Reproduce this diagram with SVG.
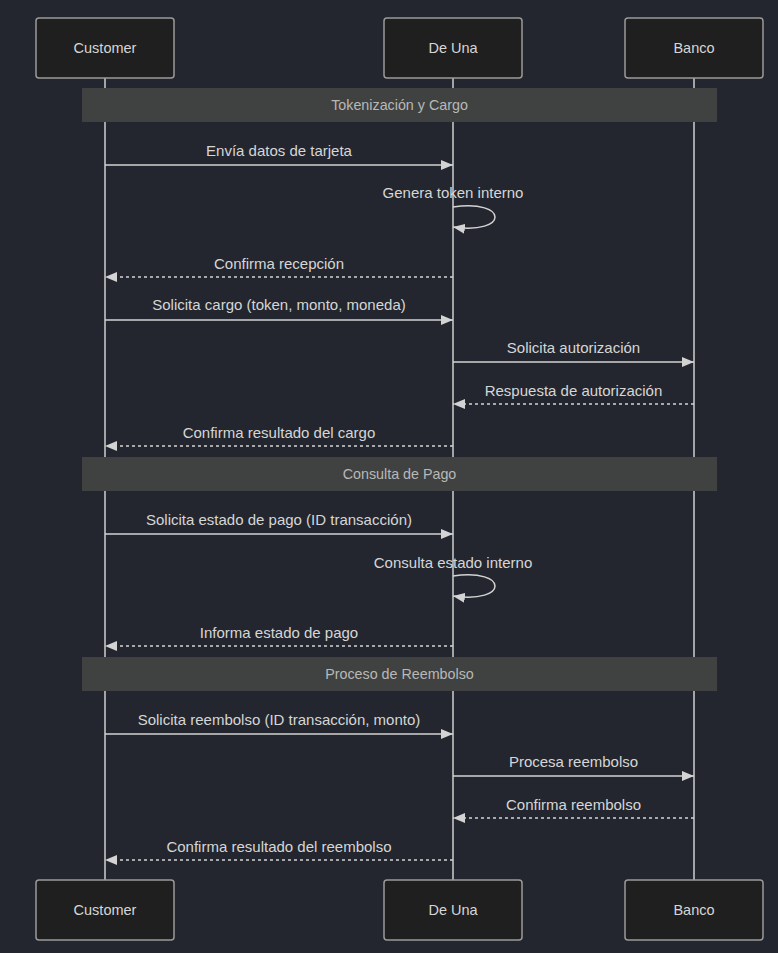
<svg xmlns="http://www.w3.org/2000/svg" width="778" height="953" viewBox="0 0 778 953">
<defs>
<marker id="arr" viewBox="0 0 12 10" refX="12" refY="5" markerWidth="12" markerHeight="10" markerUnits="userSpaceOnUse" orient="auto">
<path d="M0,0 L12,5 L0,10 z" fill="#d3d3d3"/>
</marker>
</defs>
<style>
.actor{fill:#1f1f1f;stroke:#9a9a9a;stroke-width:1.5}
.atext{font-family:"Liberation Sans",Arial,sans-serif;font-size:14.5px;fill:#d6d6d6;text-anchor:middle;dominant-baseline:central}
.life{stroke:#cfcfcf;stroke-width:1.5}
.sec{fill:#404241}
.stext{font-family:"Liberation Sans",Arial,sans-serif;font-size:14.3px;fill:#b8b8b8;text-anchor:middle;dominant-baseline:central}
.msg{stroke:#d3d3d3;stroke-width:1.5;fill:none;marker-end:url(#arr)}
.dash{stroke-dasharray:3,3}
.mtext{font-family:"Liberation Sans",Arial,sans-serif;font-size:15px;fill:#d6d6d6;text-anchor:middle;dominant-baseline:central}
</style>
<rect width="778" height="953" fill="#23262e"/>
<g id="lifelines">
<line class="life" x1="105" y1="78" x2="105" y2="880"/>
<line class="life" x1="453" y1="78" x2="453" y2="880"/>
<line class="life" x1="694" y1="78" x2="694" y2="880"/>
</g>
<g id="sections">
<rect class="sec" x="82" y="88" width="635" height="34"/>
<text class="stext" x="399.5" y="105">Tokenización y Cargo</text>
<rect class="sec" x="82" y="457" width="635" height="34"/>
<text class="stext" x="399.5" y="474">Consulta de Pago</text>
<rect class="sec" x="82" y="657" width="635" height="34"/>
<text class="stext" x="399.5" y="674">Proceso de Reembolso</text>
</g>
<g id="actor-customer-top"><rect class="actor" x="36" y="18" width="138" height="60" rx="3"/><text class="atext" x="105" y="48">Customer</text></g>
<g id="actor-deuna-top"><rect class="actor" x="384" y="18" width="138" height="60" rx="3"/><text class="atext" x="453" y="48">De Una</text></g>
<g id="actor-banco-top"><rect class="actor" x="625" y="18" width="138" height="60" rx="3"/><text class="atext" x="694" y="48">Banco</text></g>
<g id="actor-customer-bottom"><rect class="actor" x="36" y="880" width="138" height="60" rx="3"/><text class="atext" x="105" y="910">Customer</text></g>
<g id="actor-deuna-bottom"><rect class="actor" x="384" y="880" width="138" height="60" rx="3"/><text class="atext" x="453" y="910">De Una</text></g>
<g id="actor-banco-bottom"><rect class="actor" x="625" y="880" width="138" height="60" rx="3"/><text class="atext" x="694" y="910">Banco</text></g>
<g id="connectors">
<line class="msg" x1="105" y1="165" x2="453" y2="165"/>
<text class="mtext" x="279" y="150">Envía datos de tarjeta</text>
<path class="msg" d="M453,207 C509,199 509,235 453,227"/>
<text class="mtext" x="453" y="192">Genera token interno</text>
<line class="msg dash" x1="453" y1="277" x2="105" y2="277"/>
<text class="mtext" x="279" y="263">Confirma recepción</text>
<line class="msg" x1="105" y1="320" x2="453" y2="320"/>
<text class="mtext" x="279" y="304">Solicita cargo (token, monto, moneda)</text>
<line class="msg" x1="453" y1="362" x2="694" y2="362"/>
<text class="mtext" x="573.5" y="347">Solicita autorización</text>
<line class="msg dash" x1="694" y1="404" x2="453" y2="404"/>
<text class="mtext" x="573.5" y="390">Respuesta de autorización</text>
<line class="msg dash" x1="453" y1="446" x2="105" y2="446"/>
<text class="mtext" x="279" y="432">Confirma resultado del cargo</text>
<line class="msg" x1="105" y1="534" x2="453" y2="534"/>
<text class="mtext" x="279" y="519">Solicita estado de pago (ID transacción)</text>
<path class="msg" d="M453,576 C509,568 509,604 453,596"/>
<text class="mtext" x="453" y="562">Consulta estado interno</text>
<line class="msg dash" x1="453" y1="646" x2="105" y2="646"/>
<text class="mtext" x="279" y="632">Informa estado de pago</text>
<line class="msg" x1="105" y1="734" x2="453" y2="734"/>
<text class="mtext" x="279" y="719">Solicita reembolso (ID transacción, monto)</text>
<line class="msg" x1="453" y1="776" x2="694" y2="776"/>
<text class="mtext" x="573.5" y="761">Procesa reembolso</text>
<line class="msg dash" x1="694" y1="818" x2="453" y2="818"/>
<text class="mtext" x="573.5" y="804">Confirma reembolso</text>
<line class="msg dash" x1="453" y1="860" x2="105" y2="860"/>
<text class="mtext" x="279" y="846">Confirma resultado del reembolso</text>
</g>
</svg>
